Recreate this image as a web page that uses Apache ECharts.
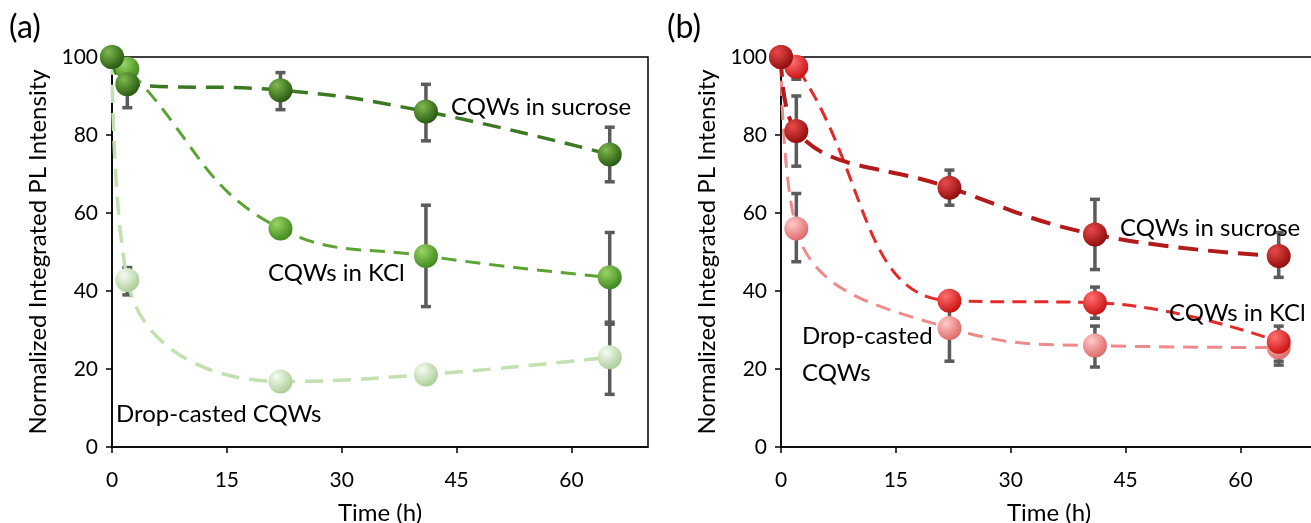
<!DOCTYPE html>
<html lang="en">
<head>
    <meta charset="UTF-8">
    <title>PL intensity vs time</title>
    <style>
        html,body{
            padding: 0;
            margin: 0;
            width: 100%;
            height: 100%;
            background: #fff;
        }
        .chart{
            width: 1311px;
            height: 523px;
        }
    </style>
    <script src="https://cdn.jsdelivr.net/npm/echarts@6/dist/echarts.min.js"></script>
</head>
<body>
<div class="chart"></div>
<script>
    // time points (h)
    let times = [0, 2, 22, 41, 65];
    let xTicks = [0, 15, 30, 45, 60];

    // panel (a) - green
    let aSucrose = [100, 93, 91.5, 86, 75];
    let aKCl = [100, 97, 56, 49, 43.5];
    let aDrop = [100, 42.8, 16.8, 18.6, 23];
    // error bars [time, low, high]
    let aErr = [
        [2, 87, 98], [22, 86.5, 96], [41, 78.5, 93], [65, 68, 82],
        [41, 36, 62], [65, 32, 55],
        [2, 39, 46], [41, 17, 20], [65, 13.5, 31.5]
    ];

    // panel (b) - red
    let bSucrose = [100, 81, 66.5, 54.5, 49];
    let bKCl = [100, 97.5, 37.5, 37, 27];
    let bDrop = [100, 56, 30.5, 26, 25.5];
    let bErr = [
        [2, 72, 90], [22, 62, 71], [41, 45.5, 63.5], [65, 43.5, 55],
        [2, 94.3, 99], [41, 33, 41], [65, 22, 31],
        [2, 47.5, 65], [22, 22, 38], [41, 20.5, 31], [65, 21, 28]
    ];

    let font = 'Lato, "Open Sans", sans-serif';

    let chart = echarts.init(document.querySelector('.chart'));

    function pairs(ys){
        return times.map((t, i) => [t, ys[i]]);
    }

    function renderErr(params, api){
        let x = api.value(0);
        let top = api.coord([x, api.value(2)]);
        let bot = api.coord([x, api.value(1)]);
        let w = 5;
        let style = {stroke: '#5b5b5b', lineWidth: 3.5};
        return {
            type: 'group',
            children: [
                {type: 'line', shape: {x1: top[0], y1: top[1], x2: bot[0], y2: bot[1]}, style: style},
                {type: 'line', shape: {x1: top[0] - w, y1: top[1], x2: top[0] + w, y2: top[1]}, style: style},
                {type: 'line', shape: {x1: bot[0] - w, y1: bot[1], x2: bot[0] + w, y2: bot[1]}, style: style}
            ]
        };
    }

    function sphere(light, dark){
        return new echarts.graphic.RadialGradient(0.35, 0.3, 0.75, [
            {offset: 0, color: light},
            {offset: 1, color: dark}
        ]);
    }

    function lineSeries(idx, ys, lineColor, width, dash, light, dark){
        return {
            type: 'line',
            xAxisIndex: idx,
            yAxisIndex: idx,
            data: pairs(ys),
            smooth: 0.45,
            symbol: 'circle',
            symbolSize: 24,
            z: 3,
            lineStyle: {color: lineColor, width: width, type: dash},
            itemStyle: {color: sphere(light, dark), borderWidth: 0},
            emphasis: {disabled: true}
        };
    }

    function xAxis(idx){
        return {
            type: 'value',
            gridIndex: idx,
            min: 0,
            max: 70,
            interval: 15,
            name: 'Time (h)',
            nameLocation: 'middle',
            nameGap: 54,
            nameTextStyle: {fontFamily: font, fontSize: 24, color: '#000'},
            splitLine: {show: false},
            axisLine: {lineStyle: {color: '#000', width: 1.5}},
            axisTick: {length: 6, lineStyle: {color: '#000', width: 1.5}},
            axisLabel: {
                fontFamily: font, fontSize: 21, color: '#000', margin: 23,
                showMaxLabel: false,
                formatter: v => xTicks.includes(v) ? String(v) : ''
            }
        };
    }

    function yAxis(idx){
        return {
            type: 'value',
            gridIndex: idx,
            min: 0,
            max: 100,
            interval: 20,
            name: 'Normalized Integrated PL Intensity',
            nameLocation: 'middle',
            nameGap: 62,
            nameTextStyle: {fontFamily: font, fontSize: 24, color: '#000'},
            splitLine: {show: false},
            axisLine: {lineStyle: {color: '#000', width: 1.5}},
            axisTick: {length: 6, lineStyle: {color: '#000', width: 1.5}},
            axisLabel: {fontFamily: font, fontSize: 21, color: '#000', margin: 14}
        };
    }

    function note(text, left, top){
        return {
            type: 'text',
            left: left,
            top: top,
            z: 10,
            style: {text: text, font: '24px ' + font, fill: '#000', lineHeight: 37}
        };
    }

    let option = {
        backgroundColor: '#fff',
        animation: false,
        grid: [
            {left: 112, top: 57, width: 536, height: 390, show: true, borderColor: '#000', borderWidth: 1.5,
                outerBoundsMode: 'none', containLabel: false},
            {left: 781, top: 57, width: 536, height: 390, show: true, borderColor: '#000', borderWidth: 1.5,
                outerBoundsMode: 'none', containLabel: false}
        ],
        xAxis: [xAxis(0), xAxis(1)],
        yAxis: [yAxis(0), yAxis(1)],
        graphic: [
            {type: 'text', left: 9, top: 12, style: {text: '(a)', font: '32px ' + font, fill: '#000'}},
            {type: 'text', left: 667, top: 12, style: {text: '(b)', font: '32px ' + font, fill: '#000'}},
            note('CQWs in sucrose', 451, 89),
            note('CQWs in KCl', 268, 255),
            note('Drop-casted CQWs', 116, 396),
            note('CQWs in sucrose', 1120, 210),
            note('CQWs in KCl', 1169, 295),
            note('Drop-casted\nCQWs', 802, 318)
        ],
        series: [
            {
                type: 'custom',
                xAxisIndex: 0,
                yAxisIndex: 0,
                data: aErr,
                renderItem: renderErr,
                encode: {x: 0, y: [1, 2]},
                z: 2
            },
            {
                type: 'custom',
                xAxisIndex: 1,
                yAxisIndex: 1,
                data: bErr,
                renderItem: renderErr,
                encode: {x: 0, y: [1, 2]},
                z: 2
            },
            lineSeries(0, aDrop, '#c3e0b0', 3.5, [18, 10], '#f6fbf2', '#a9cc93'),
            lineSeries(0, aKCl, '#5ba332', 3, [15, 9], '#9ad466', '#3d861c'),
            lineSeries(0, aSucrose, '#3b7a22', 3.5, [18, 10], '#7fb84e', '#24560f'),
            lineSeries(1, bDrop, '#f08a8a', 3, [15, 9], '#ffc9c9', '#dd6565'),
            lineSeries(1, bKCl, '#e52a2a', 3, [14, 8], '#ff7070', '#c80f0f'),
            lineSeries(1, bSucrose, '#b31a1a', 4, [20, 10], '#e84a4a', '#8e0b0b')
        ]
    };

    chart.setOption(option);
</script>
</body>
</html>
